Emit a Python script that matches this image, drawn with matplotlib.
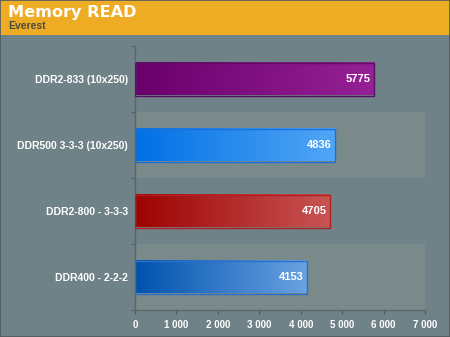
import matplotlib
matplotlib.use("Agg")
import matplotlib.pyplot as plt
from matplotlib.colors import LinearSegmentedColormap
from matplotlib.patches import Rectangle
import numpy as np

plt.rcParams['font.family'] = ['Liberation Sans', 'DejaVu Sans']

labels = ["DDR2-833 (10x250)", "DDR500 3-3-3 (10x250)", "DDR2-800 - 3-3-3", "DDR400 - 2-2-2"]
values = [5775, 4836, 4705, 4153]
# left / right end colours of each bar's gradient
grad_left = ["#6a006c", "#0070e4", "#9e0202", "#0052ae"]
grad_right = ["#962096", "#52a6f6", "#c85454", "#6aa2e2"]
edges = ["#5a1060", "#1a70d8", "#b02020", "#2a70c8"]
xticks = [0, 1000, 2000, 3000, 4000, 5000, 6000, 7000]

bg = "#6e8288"
band = "#7a8a8a"

fig = plt.figure(figsize=(4.5, 3.37), dpi=100, facecolor=bg)

# header strip
fig.patches.append(Rectangle((0, 1 - 35 / 337), 1, 35 / 337, transform=fig.transFigure,
                             facecolor="#eeac24", edgecolor="none", zorder=0))
fig.text(8 / 450, 1 - 13 / 337, "Memory READ", color="white", fontsize=11.6,
         fontweight="bold", family="DejaVu Sans", va="center", ha="left")
fig.text(8 / 450, 1 - 26 / 337, "Everest", color="#4a4a40", fontsize=7.5,
         fontweight="bold", va="center", ha="left")
fig.patches.append(Rectangle((0, 0), 1, 1, transform=fig.transFigure, fill=False,
                             edgecolor="#505a5e", linewidth=1.2, zorder=5))

ax = fig.add_axes([135 / 450, 1 - 310 / 337, 290 / 450, 264 / 337])
ax.set_facecolor(bg)
n = len(labels)

# alternating lighter rows
for i in range(n):
    if i % 2 == 1:
        ax.axhspan(i - 0.5, i + 0.5, color=band, zorder=0, lw=0)

h = 0.5
grad = np.linspace(0, 1, 256).reshape(1, -1)
for i, v in enumerate(values):
    cmap = LinearSegmentedColormap.from_list("g%d" % i, [grad_left[i], grad_right[i]])
    ax.imshow(grad, cmap=cmap, aspect="auto", extent=(0, v, i + h / 2, i - h / 2),
              zorder=2, interpolation="bilinear")
    ax.add_patch(Rectangle((0, i - h / 2), v, h, fill=False, edgecolor=edges[i],
                           linewidth=1, zorder=3))
    ax.text(v - 80, i, str(v), color="white", fontsize=8, fontweight="bold",
            ha="right", va="center", zorder=4)

ax.set_xlim(0, 7000)
ax.set_ylim(n - 0.5, -0.5)

ax.set_yticks(range(n))
ax.set_yticklabels(labels, color="white", fontsize=7.5, fontweight="bold")
ax.tick_params(axis="y", length=0, pad=5)
ax.set_yticks(np.arange(-0.5, n, 1), minor=True)
ax.tick_params(axis="y", which="minor", length=3, color="#505a5e", direction="out")

ax.set_xticks(xticks)
ax.set_xticklabels([f"{t:,}".replace(",", " ") for t in xticks], color="white",
                   fontsize=7, fontweight="bold")
ax.tick_params(axis="x", length=3, color="#505a5e", pad=4)

for s in ["top", "right"]:
    ax.spines[s].set_visible(False)
for s in ["left", "bottom"]:
    ax.spines[s].set_color("#5a666a")
    ax.spines[s].set_linewidth(1)

fig.savefig("out.png", dpi=100, facecolor=bg)
